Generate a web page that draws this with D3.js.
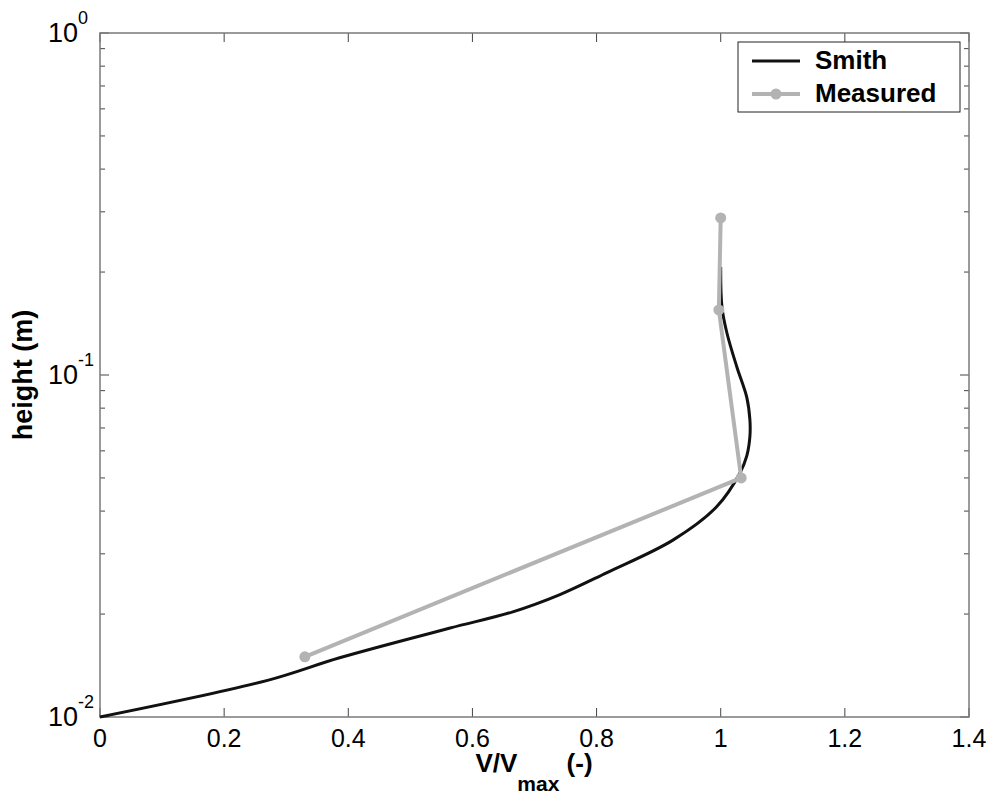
<!DOCTYPE html>
<html>
<head>
<meta charset="utf-8">
<script src="https://cdn.jsdelivr.net/npm/d3@7"></script>
<style>
  body { margin: 0; background: #fff; }
  svg { display: block; font-family: "Liberation Sans", Arial, sans-serif; }
</style>
</head>
<body>
<svg id="chart" width="994" height="794"></svg>
<script>
// Smith model profile: velocity ratio vs height
const smithV = [0, 0.27, 0.386, 0.564, 0.665, 0.741, 0.816, 0.923, 0.993, 1.031, 1.042, 1.047, 1.047, 1.042, 1.026, 1.01, 1.002, 1.0];
const smithH = [0.01, 0.0128, 0.0149, 0.0182, 0.0203, 0.0228, 0.0264, 0.0329, 0.0411, 0.0517, 0.058, 0.066, 0.074, 0.086, 0.1055, 0.1327, 0.158, 0.207];

// Measured profile
const measV = [0.33, 1.033, 0.997, 1.0];
const measH = [0.015, 0.05, 0.155, 0.288];

const xTicks = [0, 0.2, 0.4, 0.6, 0.8, 1, 1.2, 1.4];
const xTickLabels = ["0", "0.2", "0.4", "0.6", "0.8", "1", "1.2", "1.4"];
const yDecades = [-2, -1, 0];
const seriesNames = ["Smith", "Measured"];

const svg = d3.select("#chart");
const m = { left: 100, right: 969, top: 33, bottom: 717 };

const x = d3.scaleLinear().domain([0, 1.4]).range([m.left, m.right]);
const y = d3.scaleLog().domain([0.01, 1]).range([m.bottom, m.top]);

const axisColor = "#7a7a7a";

// Ticks (inside, on all four sides)
const tickG = svg.append("g").attr("stroke", "#444").attr("stroke-width", 1);
xTicks.forEach(v => {
  tickG.append("line").attr("x1", x(v)).attr("x2", x(v)).attr("y1", m.bottom).attr("y2", m.bottom - 9);
  tickG.append("line").attr("x1", x(v)).attr("x2", x(v)).attr("y1", m.top).attr("y2", m.top + 9);
});
const minor = [];
[-2, -1].forEach(d => { for (let k = 2; k <= 9; k++) minor.push(k * Math.pow(10, d)); });
minor.forEach(v => {
  tickG.append("line").attr("x1", m.left).attr("x2", m.left + 5).attr("y1", y(v)).attr("y2", y(v));
  tickG.append("line").attr("x1", m.right).attr("x2", m.right - 5).attr("y1", y(v)).attr("y2", y(v));
});
yDecades.forEach(d => {
  const v = Math.pow(10, d);
  tickG.append("line").attr("x1", m.left).attr("x2", m.left + 9).attr("y1", y(v)).attr("y2", y(v));
  tickG.append("line").attr("x1", m.right).attr("x2", m.right - 9).attr("y1", y(v)).attr("y2", y(v));
});

// Frame
svg.append("rect")
  .attr("x", m.left).attr("y", m.top)
  .attr("width", m.right - m.left).attr("height", m.bottom - m.top)
  .attr("fill", "none").attr("stroke", axisColor).attr("stroke-width", 1.5);

// X tick labels
xTicks.forEach((v, i) => {
  svg.append("text").attr("x", x(v)).attr("y", m.bottom + 30)
    .attr("text-anchor", "middle").attr("font-size", 25).attr("fill", "#000")
    .text(xTickLabels[i]);
});

// Y tick labels: 10^n, with "10" ending just left of the axis and the exponent after it
yDecades.forEach(d => {
  const t = svg.append("text").attr("y", y(Math.pow(10, d)) + 9)
    .attr("font-size", 27).attr("fill", "#000");
  const base = t.append("tspan").text("10");
  t.append("tspan").attr("dy", -18).attr("font-size", 18).text(String(d));
  const w = base.node().getComputedTextLength();
  t.attr("x", 78 - w);
});

// Axis titles
const xl = svg.append("text").attr("x", 534).attr("y", 772)
  .attr("text-anchor", "middle").attr("font-size", 26).attr("font-weight", "bold");
xl.append("tspan").text("V/V");
xl.append("tspan").attr("dy", 19).attr("font-size", 21).text("max");
xl.append("tspan").attr("dy", -19).text(" (-)");

svg.append("text")
  .attr("transform", `translate(32,${y(0.1)}) rotate(-90)`)
  .attr("text-anchor", "middle").attr("font-size", 27).attr("font-weight", "bold")
  .text("height (m)");

// Series
const smith = smithV.map((v, i) => [v, smithH[i]]);
const meas = measV.map((v, i) => [v, measH[i]]);

const plot = svg.append("g");
plot.append("path").datum(smith)
  .attr("d", d3.line().x(d => x(d[0])).y(d => y(d[1])).curve(d3.curveCatmullRom.alpha(0.5)))
  .attr("fill", "none").attr("stroke", "#111").attr("stroke-width", 3);

const measColor = "#b3b3b3";
plot.append("path").datum(meas).attr("d", d3.line().x(d => x(d[0])).y(d => y(d[1])))
  .attr("fill", "none").attr("stroke", measColor).attr("stroke-width", 4);
plot.selectAll("circle.m").data(meas).enter().append("circle")
  .attr("cx", d => x(d[0])).attr("cy", d => y(d[1])).attr("r", 5.5)
  .attr("fill", measColor);

// Legend
const lg = svg.append("g");
lg.append("rect").attr("x", 738).attr("y", 42).attr("width", 222).attr("height", 70)
  .attr("fill", "#fff").attr("stroke", "#222").attr("stroke-width", 1);
lg.append("line").attr("x1", 752).attr("x2", 800).attr("y1", 61).attr("y2", 61)
  .attr("stroke", "#111").attr("stroke-width", 3);
lg.append("line").attr("x1", 752).attr("x2", 800).attr("y1", 94).attr("y2", 94)
  .attr("stroke", measColor).attr("stroke-width", 4);
lg.append("circle").attr("cx", 776).attr("cy", 94).attr("r", 5.5).attr("fill", measColor);
lg.append("text").attr("x", 815).attr("y", 69).attr("font-size", 26).attr("font-weight", "bold").text(seriesNames[0]);
lg.append("text").attr("x", 815).attr("y", 102).attr("font-size", 26).attr("font-weight", "bold").text(seriesNames[1]);
</script>
</body>
</html>
